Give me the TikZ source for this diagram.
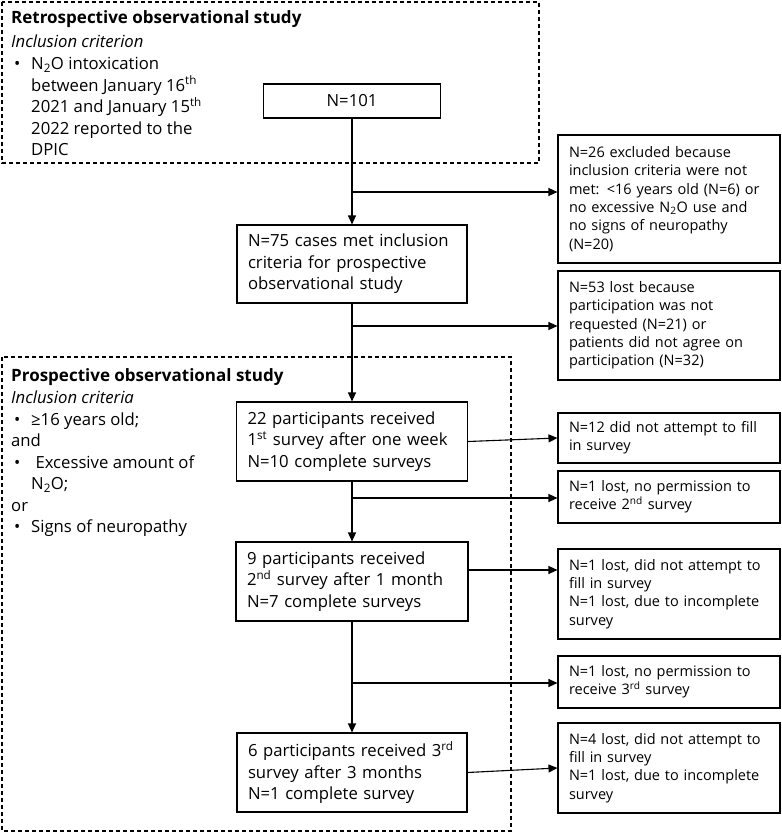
\documentclass[tikz,border=0pt]{standalone}
\usepackage{fontspec}
\setmainfont{Open Sans}
\usetikzlibrary{arrows.meta}
\newcommand{\lfont}{\fontsize{16.7}{21.5}\selectfont}
\newcommand{\rfont}{\fontsize{14.5}{18.3}\selectfont}
\newcommand{\bul}{\makebox[20pt][l]{\hspace{3pt}•}}
\begin{document}
\begin{tikzpicture}[x=1pt,y=-1pt,
  lbl/.style={font=\lfont, inner sep=0pt, anchor=base west, align=left},
  mbox/.style={draw, line width=1.1pt, inner xsep=11pt, inner ysep=0pt, align=left, font=\lfont},
  rbox/.style={draw, line width=1.1pt, inner xsep=11pt, inner ysep=0pt, align=left, font=\rfont, text width=200pt, minimum width=222pt},
  dbox/.style={draw, line width=1.1pt, dash pattern=on 4pt off 3pt},
  arr/.style={line width=1.1pt, -{Triangle[length=9pt,width=8pt]}}]
\useasboundingbox (0,0) rectangle (782,833);
% dashed study frames
\draw[dbox] (2,2) rectangle (539,163);
\draw[dbox] (2,357) rectangle (511,831);
% retrospective text (anchor = baseline of last line)
\node[lbl, font=\fontsize{17}{21.5}\selectfont\bfseries] (rt) at (11,23) {Retrospective observational study};
\node[lbl, font=\lfont\itshape] (ri) at (11,47.5) {Inclusion criterion};
\node[lbl] (rc) at (11,155.5) {\bul N\textsubscript{2}O intoxication\\\hspace{20pt}between January 16\textsuperscript{th}\\\hspace{20pt}2021 and January 15\textsuperscript{th}\\\hspace{20pt}2022 reported to the\\\hspace{20pt}DPIC};
% prospective text
\node[lbl, font=\fontsize{17}{21.5}\selectfont\bfseries] (pt) at (11,381) {Prospective observational study};
\node[lbl, font=\lfont\itshape] (pi) at (11,403) {Inclusion criteria};
\node[lbl] (pl) at (11,532.5) {\bul ≥16 years old;\\and\\\bul\ Excessive amount of\\\hspace{20pt}N\textsubscript{2}O;\\or\\\bul Signs of neuropathy};
% main boxes
\node[mbox, align=center, text width=155pt, minimum height=34pt] (b101) at (352,101) {N=101};
\node[mbox, text width=208pt, minimum height=78pt] (b75) at (352,264) {N=75 cases met inclusion\\criteria for prospective\\observational study};
\node[mbox, text width=209pt, minimum height=79pt] (b22) at (352,441.5) {22 participants received\\1\textsuperscript{st} survey after one week\\N=10 complete surveys};
\node[mbox, text width=210pt, minimum height=79pt] (b9) at (352,581.5) {9 participants received\\2\textsuperscript{nd} survey after 1 month\\N=7 complete surveys};
\node[mbox, text width=208pt, minimum height=79pt] (b6) at (352,772.5) {6 participants received 3\textsuperscript{rd}\\survey after 3 months\\N=1 complete survey};
% right boxes
\node[rbox, minimum height=128pt] (r26) at (669,199) {N=26 excluded because\\inclusion criteria were not\\met: <16 years old (N=6) or\\no excessive N\textsubscript{2}O use and\\no signs of neuropathy\\(N=20)};
\node[rbox, minimum height=109pt] (r53) at (669,325.5) {N=53 lost because\\participation was not\\requested (N=21) or\\patients did not agree on\\participation (N=32)};
\node[rbox, minimum height=50pt] (r12) at (669,438) {N=12 did not attempt to fill\\in survey};
\node[rbox, minimum height=52pt] (r1a) at (669,497) {N=1 lost, no permission to\\receive 2\textsuperscript{nd} survey};
\node[rbox, minimum height=90pt] (r1b) at (669,594) {N=1 lost, did not attempt to\\fill in survey\\N=1 lost, due to incomplete\\survey};
\node[rbox, minimum height=52pt] (r1c) at (669,682) {N=1 lost, no permission to\\receive 3\textsuperscript{rd} survey};
\node[rbox, minimum height=90pt] (r4) at (669,768) {N=4 lost, did not attempt to\\fill in survey\\N=1 lost, due to incomplete\\survey};
% junctions
\coordinate (j1) at (352,192);
\coordinate (j2) at (352,326);
\coordinate (j3) at (352,498);
\coordinate (j4) at (352,683);
% connectors
\draw[arr] (b101) -- (b75);
\draw[arr] (j1) -- (j1 -| r26.west);
\draw[arr] (b75) -- (b22);
\draw[arr] (j2) -- (j2 -| r53.west);
\draw[arr] (b22.east) -- (r12.west);
\draw[arr] (b22) -- (b9);
\draw[arr] (j3) -- (j3 -| r1a.west);
\draw[arr] ([yshift=11.5pt]b9.east) -- ([yshift=11.5pt]b9.east -| r1b.west);
\draw[arr] (b9) -- (b6);
\draw[arr] (j4) -- (j4 -| r1c.west);
\draw[arr] (b6.east) -- (r4.west);
\end{tikzpicture}
\end{document}
